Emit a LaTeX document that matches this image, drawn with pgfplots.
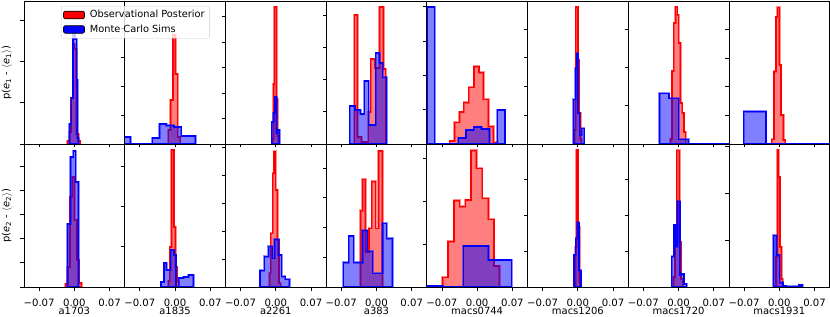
\documentclass[border=0pt]{standalone}
\usepackage{fontspec}
\setmainfont{DejaVu Sans}
\usepackage{pgfplots}
\pgfplotsset{compat=1.18}
\newcommand\lblfont{\fontsize{10.1bp}{12bp}\selectfont}
\newcommand\legfont{\fontsize{9.8bp}{11.7bp}\selectfont}
\pgfplotsset{
  rfill/.style={const plot mark left, forget plot, fill=red, fill opacity=0.5, draw=red, draw opacity=0.45, line width=2.4bp},
  rline/.style={const plot mark left, forget plot, draw=red, line width=1.2bp},
  bfill/.style={const plot mark left, forget plot, fill=blue, fill opacity=0.5, draw=blue, draw opacity=0.45, line width=2.4bp},
  bline/.style={const plot mark left, forget plot, draw=blue, line width=1.2bp},
  panel/.style={
    width=100.7bp, height=143bp, scale only axis, anchor=south west,
    xmin=-0.1, xmax=0.1, ymin=0, ymax=143,
    xtick={-0.07,0,0.07}, scaled ticks=false,
    tick align=outside, major tick length=3.5bp,
    major tick style={black, line width=0.8bp},
    xtick pos=left, ytick pos=left,
    yticklabels={},
    axis line style={black, line width=0.8bp},
    axis on top,
    tick label style={font=\lblfont},
    xticklabel style={anchor=base, yshift=-15.5bp},
    label style={font=\lblfont},
    every axis x label/.style={at={(axis description cs:0.5,0)}, anchor=base, yshift=-27.5bp},
    every axis y label/.style={at={(axis description cs:-0.17,0.5)}, rotate=90, anchor=center},
  },
  toprow/.style={panel, xticklabels={}},
  botrow/.style={panel, xticklabels={−0.07,0.00,0.07}},
}
\newcommand\rhist[1]{\addplot[rfill] coordinates {#1} \closedcycle; \addplot[rline] coordinates {#1} \closedcycle;}
\newcommand\bhist[1]{\addplot[bfill] coordinates {#1} \closedcycle; \addplot[bline] coordinates {#1} \closedcycle;}
\begin{document}
\begin{tikzpicture}
% ---------------- bottom row ----------------
\begin{axis}[botrow, at={(0bp,0bp)}, xlabel={a1703}, ylabel={p(\textit{e}\textsubscript{2} - $\langle$\textit{e}\textsubscript{2}$\rangle$)}, ytick={0,24.2,48.4,72.6,96.8,121}]
\rhist{(-0.0177,3) (-0.0133,20) (-0.0087,90) (-0.0041,110) (0.0005,67) (0.0051,27) (0.0097,4) (0.0143,4)}
\bhist{(-0.0133,63) (-0.0073,130) (-0.0021,136) (0.0027,105) (0.0079,105)}
\end{axis}
\begin{axis}[botrow, at={(100.7bp,0bp)}, xlabel={a1835}, ytick={0,40.1,80.2,120.3}]
\rhist{(-0.0134,6) (-0.0104,40) (-0.0074,137) (-0.002,60) (0.001,20) (0.004,5) (0.007,5)}
\bhist{(-0.028,5) (-0.022,24) (-0.0166,17) (-0.0086,37) (-0.002,32) (0.002,0) (0.0074,9) (0.0166,10) (0.0266,12) (0.0366,12)}
\end{axis}
\begin{axis}[botrow, at={(201.4bp,0bp)}, xlabel={a2261}, ytick={0,28,56,84,112,140}]
\rhist{(-0.0128,13.7) (-0.01,53.7) (-0.006,113.7) (-0.0034,135.3) (0,97) (0.0032,47) (0.0066,3.7) (0.01,3.7)}
\bhist{(-0.0314,16.3) (-0.0228,30.3) (-0.0148,40.3) (-0.0068,28.7) (-0.0028,47.7) (0.0052,32) (0.012,10.3) (0.0186,7.7) (0.0272,7.7)}
\end{axis}
\begin{axis}[botrow, at={(302.1bp,0bp)}, xlabel={a383}, ytick={0,29.7,59.4,89.1,118.8}]
\rhist{(-0.0314,76.3) (-0.0274,107.7) (-0.0214,35) (-0.0148,58.7) (-0.0094,105.3) (-0.0014,58.7) (0.0038,136) (0.0118,136)}
\bhist{(-0.0662,24.3) (-0.0548,51) (-0.0448,24.3) (-0.0274,56.3) (-0.0182,35.7) (-0.0074,13.7) (0.0118,63.7) (0.0206,48.3) (0.0318,48.3)}
\end{axis}
\begin{axis}[botrow, at={(402.8bp,0bp)}, xlabel={macs0744}, ytick={0,42.7,85.4,128.1}]
\rhist{(-0.069,9.7) (-0.0578,45.3) (-0.0458,86.3) (-0.0344,80.3) (-0.0238,87) (-0.0124,136.3) (-0.001,118.7) (0.0102,88.7) (0.0222,67.7) (0.0336,21) (0.0442,21)}
\bhist{(-0.1264,1) (-0.0678,0) (-0.0278,41) (0.0222,27) (0.069,27)}
\end{axis}
\begin{axis}[botrow, at={(503.5bp,0bp)}, xlabel={macs1206}, ytick={0,36,72,108}]
\rhist{(-0.005,40) (-0.003,137) (0.0004,60) (0.003,5) (0.0044,5)}
\bhist{(-0.0076,32) (-0.0042,48.7) (-0.001,64.3) (0.0024,16.3) (0.0064,16.3)}
\end{axis}
\begin{axis}[botrow, at={(604.2bp,0bp)}, xlabel={macs1720}, ytick={0,35.7,71.4,107.1}]
\rhist{(-0.0104,10) (-0.007,60) (-0.0036,136.3) (0.0016,45) (0.005,8) (0.0084,8)}
\bhist{(-0.0136,30.3) (-0.009,62) (-0.005,40.3) (-0.0024,85.3) (0.003,12) (0.0064,13) (0.011,3) (0.0164,3)}
\end{axis}
\begin{axis}[botrow, at={(704.9bp,0bp)}, xlabel={macs1931}, ytick={0,46.7,93.4,140.1}]
\rhist{(-0.0064,30) (-0.0038,137) (-0.001,110) (0.0016,40) (0.0042,8) (0.007,8)}
\bhist{(-0.0118,51.3) (-0.0054,32) (0.001,4.3) (0.0074,1) (0.0138,0.5) (0.0202,0.5) (0.0266,0.5) (0.033,0.5) (0.0394,2) (0.0458,2)}
\end{axis}
% ---------------- top row ----------------
\begin{axis}[toprow, at={(100.7bp,143bp)}, ytick={0,28.9,57.8,86.7,115.6}]
\rhist{(-0.0136,14) (-0.0088,44) (-0.004,109) (0.0008,70) (0.0056,7) (0.0104,7)}
\bhist{(-0.103,7) (-0.0886,0) (-0.0742,0) (-0.0598,0) (-0.0454,6) (-0.031,20) (-0.0166,18.5) (-0.0022,17) (0.0122,8) (0.0266,8) (0.041,8)}
\end{axis}
\begin{axis}[toprow, at={(201.4bp,143bp)}, ytick={0,25.5,51,76.5,102,127.5}]
\rhist{(-0.0068,5) (-0.0048,60) (-0.0028,137) (0.0012,45) (0.0032,8) (0.0052,8)}
\bhist{(-0.008,22) (-0.0048,31) (-0.0014,47) (0.0012,11) (0.0032,14) (0.0072,14)}
\end{axis}
\begin{axis}[toprow, at={(302.1bp,143bp)}, ytick={0,32.1,64.2,96.3,128.4}]
\rhist{(-0.0442,129) (-0.0374,7) (-0.0294,2) (-0.0162,32) (-0.0114,85) (-0.0028,76) (0.0058,137) (0.0138,75) (0.0186,75)}
\bhist{(-0.0528,38) (-0.0428,34) (-0.0314,30) (-0.0242,63) (-0.0154,19) (-0.0014,91) (0.0058,81) (0.0126,66.7) (0.0206,66.7)}
\end{axis}
\begin{axis}[toprow, at={(402.8bp,143bp)}, ytick={0,34.3,68.6,102.9,137.2}]
\rhist{(-0.0544,3) (-0.0446,21.7) (-0.0354,32) (-0.0264,41.3) (-0.0164,56.7) (-0.0064,77.3) (0.0036,71.3) (0.0126,44.7) (0.0222,17.3) (0.0322,1.3) (0.0402,1.3)}
\bhist{(-0.0998,137) (-0.0843,0) (-0.0688,0) (-0.0533,0) (-0.0378,6) (-0.0223,14) (-0.0068,17) (0.0087,15) (0.0242,0) (0.0397,34) (0.0552,34)}
\end{axis}
\begin{axis}[toprow, at={(503.5bp,143bp)}, ytick={0,28.75,57.5,86.25,115}]
\rhist{(-0.0066,14) (-0.004,137) (0.0004,84) (0.0028,31) (0.005,5) (0.007,5)}
\bhist{(-0.009,44.7) (-0.005,75.7) (-0.0022,90.7) (0.0004,30.7) (0.0038,9) (0.0078,15.7) (0.0124,15.7)}
\end{axis}
\begin{axis}[toprow, at={(604.2bp,143bp)}, ytick={0,38.2,76.4,114.6}]
\rhist{(-0.0164,5) (-0.013,73) (-0.0096,121) (-0.0062,137) (-0.0028,129) (0.0006,101) (0.004,41) (0.0074,31) (0.0108,12) (0.0142,12)}
\bhist{(-0.038,50.7) (-0.0188,45.7) (0.0004,4.7) (0.0196,0) (0.1156,0)}
\end{axis}
\begin{axis}[toprow, at={(704.9bp,143bp)}, ytick={0,28.6,57.2,85.8,114.4,143}]
\rhist{(-0.015,4.7) (-0.0104,72.3) (-0.0064,127) (-0.0038,136.7) (0.0002,79) (0.0036,29) (0.0082,4) (0.0116,4)}
\bhist{(-0.0704,32.3) (-0.0264,0) (0.1056,0)}
\end{axis}
\begin{axis}[toprow, at={(0bp,143bp)}, ytick={0,41.2,82.4,123.6},
  ylabel={p(\textit{e}\textsubscript{1} - $\langle$\textit{e}\textsubscript{1}$\rangle$)},
  legend image code/.code={\draw[#1, fill opacity=1, draw=black, line width=0.7bp] (0bp,-3.8bp) rectangle (21bp,3.8bp);},
  legend style={at={(axis description cs:0.367,0.965)}, anchor=north west, font=\legfont,
    fill=white, fill opacity=0.8, text opacity=1, draw=black!20, rounded corners=2bp,
    inner xsep=2bp, inner ysep=2bp, row sep=1bp, column sep=2bp,
    nodes={inner xsep=3bp, inner ysep=2bp, text depth=2.2bp, text height=7.3bp}},
  legend cell align=left]
\rhist{(-0.0137,3) (-0.0101,12) (-0.0065,46) (-0.0029,100) (0.0007,95) (0.0043,10) (0.0079,3) (0.0115,3)}
\bhist{(-0.0097,20) (-0.0061,46) (-0.0025,112) (0.0011,105) (0.0047,64) (0.0065,6) (0.0083,6)}
\addlegendimage{fill=red}
\addlegendentry{Observational Posterior}
\addlegendimage{fill=blue}
\addlegendentry{Monte Carlo Sims}
\end{axis}
\pgfresetboundingbox
\useasboundingbox (-24bp,-30bp) rectangle (806bp,287bp);
\end{tikzpicture}
\end{document}
